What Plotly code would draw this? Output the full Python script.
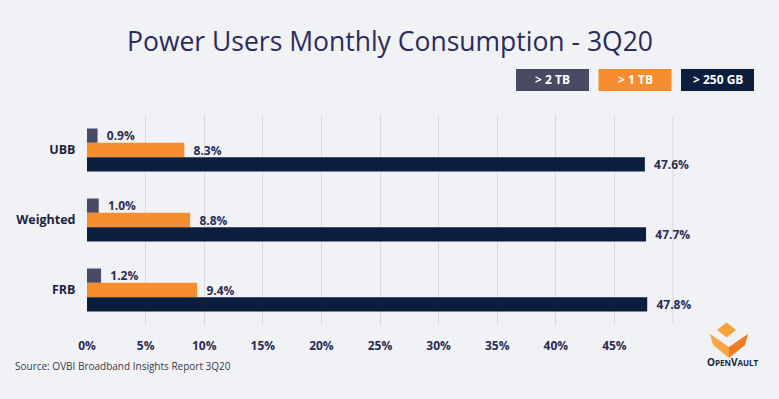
import plotly.graph_objects as go

categories = ["UBB", "Weighted", "FRB"]
series_names = ["> 2 TB", "> 1 TB", "> 250 GB"]
vals_2tb = [0.9, 1.0, 1.2]
vals_1tb = [8.3, 8.8, 9.4]
vals_250gb = [47.6, 47.7, 47.8]
tick_vals = [0, 5, 10, 15, 20, 25, 30, 35, 40, 45]
tick_text = ["0%", "5%", "10%", "15%", "20%", "25%", "30%", "35%", "40%", "45%"]

colors = ["#484b63", "#f68e2f", "#0c1e3e"]
TXT = "#2c2b55"
FONT = "Open Sans, Noto Sans, sans-serif"
BG = "#f1f2f6"
GRID = "#d9dae1"

W, H = 779, 399
L, R, T, B = 87, 673, 115, 325


def px(x):
    return (x - L) / (R - L)


def py(y):
    return (B - y) / (B - T)


fig = go.Figure()
for name, vals, col in zip(series_names, [vals_2tb, vals_1tb, vals_250gb], colors):
    fig.add_trace(go.Bar(
        y=categories, x=vals, name=name, orientation="h",
        marker=dict(color=col, line=dict(width=0)),
        text=[f"\u00a0\u00a0{v:.1f}%" for v in vals], textposition="outside",
        constraintext="none",
        textfont=dict(family=FONT, size=12, color=TXT, weight="bold"),
        cliponaxis=False, showlegend=False,
    ))

annotations = [
    dict(text="Power Users Monthly Consumption - 3Q20", x=px(390), y=py(41), xref="paper", yref="paper",
         xanchor="center", yanchor="middle", showarrow=False,
         font=dict(family=FONT, size=26.5, color="#2d2b5c")),
    dict(text="Source: OVBI Broadband Insights Report 3Q20", x=px(13), y=py(366), xref="paper", yref="paper",
         xanchor="left", yanchor="middle", showarrow=False,
         font=dict(family=FONT, size=10, color="#3a3a4a")),
    dict(text="<b>O</b><b style='font-size:8px'>PEN</b><b>V</b><b style='font-size:8px'>AULT</b>",
         x=px(733), y=py(362), xref="paper", yref="paper",
         xanchor="center", yanchor="middle", showarrow=False,
         font=dict(family=FONT, size=10, color="#1a1f3a")),
]

# legend boxes
box_centers = [552.5, 635, 717.5]
shapes = []
for name, col, cx in zip(series_names, colors, box_centers):
    shapes.append(dict(type="rect", xref="paper", yref="paper",
                       x0=px(cx - 36.5), x1=px(cx + 36.5), y0=py(91), y1=py(69),
                       fillcolor=col, line=dict(width=0), layer="above"))
    annotations.append(dict(text=f"<b>{name}</b>", x=px(cx), y=py(80), xref="paper", yref="paper",
                            xanchor="center", yanchor="middle", showarrow=False,
                            font=dict(family=FONT, size=12, color="white")))

# right border gridline
shapes.append(dict(type="line", xref="paper", yref="paper", x0=1, x1=1, y0=0, y1=1,
                   line=dict(color=GRID, width=1), layer="below"))

# logo
def poly(points):
    return "M " + " L ".join(f"{px(a)},{py(b)}" for a, b in points) + " Z"

shapes.append(dict(type="path", xref="paper", yref="paper",
                   path=poly([(726.5, 322.5), (736, 330), (726.5, 337.5), (717, 330)]),
                   fillcolor="#f7a238", line=dict(width=0)))
shapes.append(dict(type="path", xref="paper", yref="paper",
                   path=poly([(710, 334), (719, 340), (729, 347), (729, 358), (713, 345)]),
                   fillcolor="#f9a544", line=dict(width=0)))
shapes.append(dict(type="path", xref="paper", yref="paper",
                   path=poly([(748, 334), (739, 340), (729, 347), (729, 358), (745, 345)]),
                   fillcolor="#ec7b22", line=dict(width=0)))

fig.update_layout(
    width=W, height=H,
    margin=dict(l=L, r=W - R, t=T, b=H - B, autoexpand=False),
    paper_bgcolor=BG, plot_bgcolor=BG,
    barmode="group", bargap=0.386, bargroupgap=0,
    annotations=annotations, shapes=shapes,
    xaxis=dict(range=[0, 50], tickvals=tick_vals, ticktext=tick_text,
               showgrid=True, gridcolor=GRID, gridwidth=1, zeroline=False,
               ticks="outside", ticklen=10, tickcolor="rgba(0,0,0,0)",
               tickfont=dict(family=FONT, size=12, color=TXT, weight="bold"),
               fixedrange=True),
    yaxis=dict(autorange="reversed", showgrid=False, zeroline=False,
               ticks="outside", ticklen=8, tickcolor="rgba(0,0,0,0)",
               tickfont=dict(family=FONT, size=12.5, color="#1c2340", weight="bold"),
               fixedrange=True),
)
fig.write_html("out.html", config={"displayModeBar": False})

with open("out.html", encoding="utf-8") as f:
    html = f.read()
html = html.replace("<head>", "<head><style>html,body{margin:0;padding:0;overflow:hidden;background:#f1f2f6;}</style>", 1)
with open("out.html", "w", encoding="utf-8") as f:
    f.write(html)
